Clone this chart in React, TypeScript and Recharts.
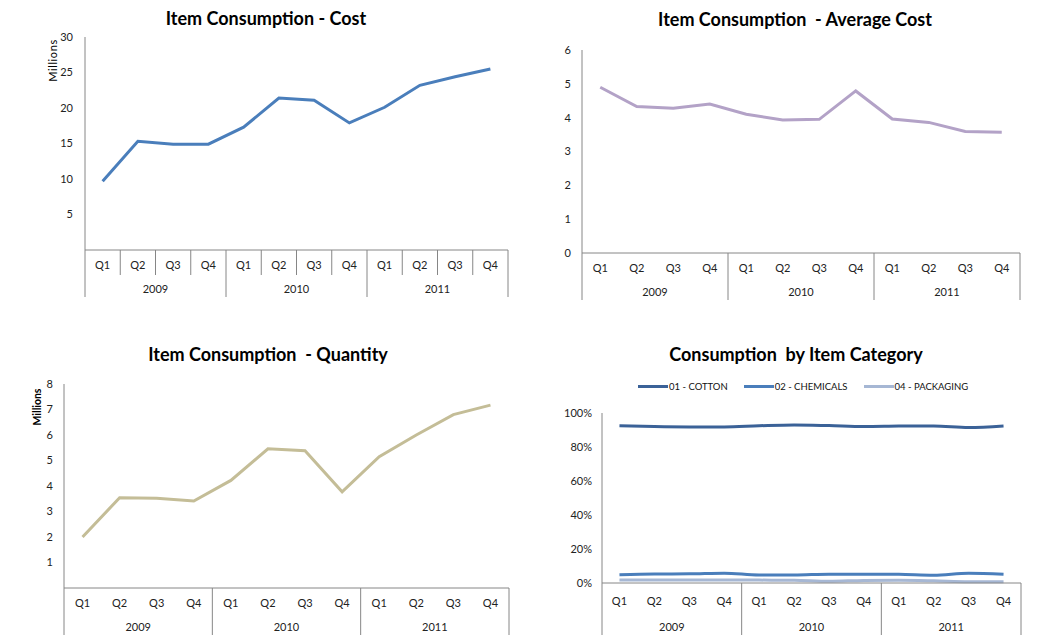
import { LineChart, Line, XAxis, YAxis } from 'recharts'

const years = ['2009', '2010', '2011']
const quarters = ['Q1', 'Q2', 'Q3', 'Q4']

const costMillions = [9.7, 15.3, 14.9, 14.9, 17.3, 21.4, 21.1, 17.9, 20.1, 23.2, 24.4, 25.5]
const avgCost = [4.9, 4.33, 4.28, 4.4, 4.1, 3.93, 3.95, 4.79, 3.96, 3.86, 3.59, 3.57]
const qtyMillions = [2.0, 3.54, 3.52, 3.41, 4.22, 5.46, 5.38, 3.77, 5.15, 6.0, 6.8, 7.17]

const cotton = [92.5, 92.0, 91.8, 91.8, 92.5, 93.0, 92.6, 92.0, 92.3, 92.4, 91.5, 92.4]
const chemicals = [4.8, 5.3, 5.4, 5.8, 4.7, 4.7, 5.2, 5.2, 5.1, 4.6, 5.7, 5.1]
const packaging = [1.8, 1.8, 1.8, 1.8, 1.7, 1.6, 1.0, 1.5, 1.6, 1.3, 0.8, 0.8]

const costTicks = [5, 10, 15, 20, 25, 30]
const avgTicks = [0, 1, 2, 3, 4, 5, 6]
const qtyTicks = [1, 2, 3, 4, 5, 6, 7, 8]
const pctTicks = [0, 20, 40, 60, 80, 100]

const categorySeries = [
  { key: 'cotton', name: '01 - COTTON', color: '#3B6298' },
  { key: 'chemicals', name: '02 - CHEMICALS', color: '#4A7EBB' },
  { key: 'packaging', name: '04 - PACKAGING', color: '#A6B7D4' },
]

const rows = years.flatMap((yr, yi) =>
  quarters.map((q, qi) => {
    const i = yi * 4 + qi
    return {
      key: `${yr} ${q}`,
      q,
      year: yr,
      cost: costMillions[i],
      avg: avgCost[i],
      qty: qtyMillions[i],
      cotton: cotton[i],
      chemicals: chemicals[i],
      packaging: packaging[i],
    }
  })
)

const FONT = 'Lato, "Open Sans", sans-serif'
const AXIS = '#868686'
const TEXT = '#222'

function makeTick(band: number, qDy: number, yearDy: number, sepLen: number, qTickLen: number) {
  return (props: any) => {
    const { x, y, payload, index } = props
    const half = band / 2
    const row = rows[index] ?? rows.find((r) => r.key === payload.value)
    const i = rows.indexOf(row)
    return (
      <g>
        <text x={x} y={y + qDy} textAnchor="middle" fontSize={11} fill={TEXT} fontFamily={FONT}>
          {row?.q}
        </text>
        {i % 4 === 0 && (
          <>
            <line x1={x - half} x2={x - half} y1={y} y2={y + sepLen} stroke={AXIS} />
            <text x={x + 3 * half} y={y + yearDy} textAnchor="middle" fontSize={11} fill={TEXT} fontFamily={FONT}>
              {row?.year}
            </text>
          </>
        )}
        {i % 4 !== 0 && qTickLen > 0 && (
          <line x1={x - half} x2={x - half} y1={y} y2={y + qTickLen} stroke={AXIS} />
        )}
        {i === rows.length - 1 && (
          <line x1={x + half} x2={x + half} y1={y} y2={y + sepLen} stroke={AXIS} />
        )}
      </g>
    )
  }
}

const tickStyle = { fontSize: 11, fill: TEXT, fontFamily: FONT }

function Title({ text, x, y }: { text: string; x: number; y: number }) {
  return (
    <div
      style={{
        position: 'absolute',
        left: x - 200,
        top: y,
        width: 400,
        textAlign: 'center',
        fontFamily: FONT,
        fontWeight: 700,
        fontSize: 18,
        color: '#000',
        whiteSpace: 'pre',
      }}
    >
      {text}
    </div>
  )
}

function Millions({ x, y, bold }: { x: number; y: number; bold?: boolean }) {
  return (
    <div
      style={{
        position: 'absolute',
        left: x - 30,
        top: y - 7,
        width: 60,
        textAlign: 'center',
        transform: 'rotate(-90deg)',
        fontFamily: FONT,
        fontSize: bold ? 10.5 : 11,
        fontWeight: bold ? 700 : 400,
        letterSpacing: bold ? 0 : 0.6,
        color: '#000',
      }}
    >
      Millions
    </div>
  )
}

export default function App() {
  return (
    <div style={{ position: 'absolute', left: 0, top: 0, width: 1054, height: 644, background: '#fff' }}>
      {/* top left: cost */}
      <div style={{ position: 'absolute', left: 0, top: 0 }}>
        <LineChart width={527} height={310} data={rows} margin={{ top: 37, right: 19, bottom: 10, left: 45 }}>
          <XAxis
            dataKey="key"
            scale="band"
            interval={0}
            height={50}
            tickSize={0}
            tickMargin={0}
            stroke={AXIS}
            tickLine={false}
            tick={makeTick(423 / 12, 19, 43, 47, 25)}
          />
          <YAxis
            domain={[0, 30]}
            ticks={costTicks}
            width={40}
            tickSize={0}
            tickMargin={12}
            tickLine={false}
            stroke={AXIS}
            tick={tickStyle}
          />
          <Line dataKey="cost" stroke="#4A7EBB" strokeWidth={3} dot={false} isAnimationActive={false} />
        </LineChart>
      </div>
      <Title text="Item Consumption - Cost" x={266} y={7} />
      <Millions x={52} y={61} />

      {/* top right: average cost */}
      <div style={{ position: 'absolute', left: 527, top: 0 }}>
        <LineChart width={527} height={310} data={rows} margin={{ top: 50, right: 34, bottom: 7, left: 15 }}>
          <XAxis
            dataKey="key"
            scale="band"
            interval={0}
            height={50}
            tickSize={0}
            tickMargin={0}
            stroke={AXIS}
            tickLine={false}
            tick={makeTick(438 / 12, 19, 43, 47, 0)}
          />
          <YAxis
            domain={[0, 6]}
            ticks={avgTicks}
            width={40}
            tickSize={0}
            tickMargin={11}
            tickLine={false}
            stroke={AXIS}
            tick={tickStyle}
          />
          <Line dataKey="avg" stroke="#B3A2C7" strokeWidth={3} dot={false} isAnimationActive={false} />
        </LineChart>
      </div>
      <Title text="Item Consumption  - Average Cost" x={795} y={8} />

      {/* bottom left: quantity */}
      <div style={{ position: 'absolute', left: 0, top: 330 }}>
        <LineChart width={527} height={314} data={rows} margin={{ top: 54, right: 18, bottom: 6, left: 24 }}>
          <XAxis
            dataKey="key"
            scale="band"
            interval={0}
            height={50}
            tickSize={0}
            tickMargin={0}
            stroke={AXIS}
            tickLine={false}
            tick={makeTick(445 / 12, 19, 43, 47, 0)}
          />
          <YAxis
            domain={[0, 8]}
            ticks={qtyTicks}
            width={40}
            tickSize={0}
            tickMargin={11}
            tickLine={false}
            stroke={AXIS}
            tick={tickStyle}
          />
          <Line dataKey="qty" stroke="#C4BD97" strokeWidth={3} dot={false} isAnimationActive={false} />
        </LineChart>
      </div>
      <Title text="Item Consumption  - Quantity" x={268} y={343} />
      <Millions x={37} y={408} bold />

      {/* bottom right: by category */}
      <div style={{ position: 'absolute', left: 527, top: 330 }}>
        <LineChart width={527} height={314} data={rows} margin={{ top: 83, right: 33, bottom: 9, left: 35 }}>
          <XAxis
            dataKey="key"
            scale="band"
            interval={0}
            height={52}
            tickSize={0}
            tickMargin={0}
            stroke={AXIS}
            tickLine={false}
            tick={makeTick(419 / 12, 22, 48, 52, 0)}
          />
          <YAxis
            domain={[0, 100]}
            ticks={pctTicks}
            width={40}
            tickSize={0}
            tickMargin={10}
            tickLine={false}
            stroke={AXIS}
            tick={tickStyle}
            tickFormatter={(v: number) => `${v}%`}
          />
          {categorySeries.map((s) => (
            <Line
              key={s.key}
              type="monotone"
              dataKey={s.key}
              name={s.name}
              stroke={s.color}
              strokeWidth={3}
              dot={false}
              isAnimationActive={false}
            />
          ))}
        </LineChart>
      </div>
      <Title text="Consumption  by Item Category" x={796} y={343} />
      <div
        style={{
          position: 'absolute',
          left: 638,
          top: 381,
          display: 'flex',
          gap: 16,
          fontFamily: FONT,
          fontSize: 9.5,
          color: '#111',
          alignItems: 'center',
        }}
      >
        {categorySeries.map((s) => (
          <div key={s.key} style={{ display: 'flex', alignItems: 'center' }}>
            <div style={{ width: 30, height: 3, background: s.color, marginRight: 1 }} />
            <span>{s.name}</span>
          </div>
        ))}
      </div>
    </div>
  )
}
